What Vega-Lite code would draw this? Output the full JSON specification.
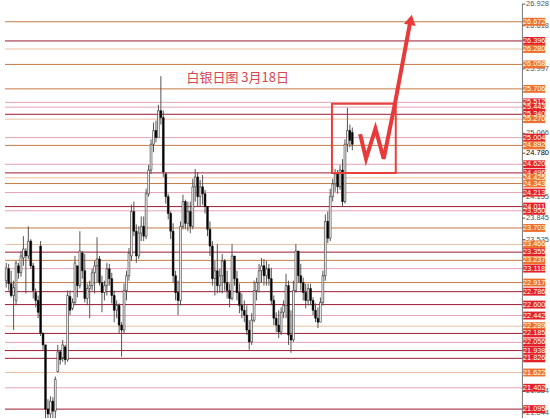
{
  "$schema": "https://vega.github.io/schema/vega-lite/v6.json",
  "width": 550,
  "height": 419,
  "padding": 0,
  "autosize": {"type": "fit", "contains": "padding"},
  "background": "#ffffff",
  "view": {"stroke": null},
  "datasets": {
    "candles": [
      {"i":0,"o":22.944,"h":23.201,"l":22.845,"c":23.129},
      {"i":1,"o":23.115,"h":23.186,"l":22.802,"c":22.902},
      {"i":2,"o":22.902,"h":23.087,"l":22.703,"c":22.731},
      {"i":3,"o":22.731,"h":22.944,"l":22.233,"c":22.845},
      {"i":4,"o":22.660,"h":23.229,"l":22.589,"c":23.201},
      {"i":5,"o":23.158,"h":23.201,"l":22.973,"c":23.058},
      {"i":6,"o":23.058,"h":23.371,"l":23.001,"c":23.300},
      {"i":7,"o":23.272,"h":23.585,"l":23.158,"c":23.400},
      {"i":8,"o":23.371,"h":23.414,"l":22.760,"c":23.300},
      {"i":9,"o":23.300,"h":23.727,"l":23.257,"c":23.514},
      {"i":10,"o":23.514,"h":23.542,"l":23.115,"c":23.158},
      {"i":11,"o":23.158,"h":23.201,"l":22.688,"c":22.802},
      {"i":12,"o":22.774,"h":22.831,"l":22.560,"c":22.660},
      {"i":13,"o":22.660,"h":22.731,"l":22.404,"c":22.489},
      {"i":14,"o":23.442,"h":23.514,"l":22.148,"c":22.190},
      {"i":15,"o":22.190,"h":22.190,"l":21.949,"c":22.020},
      {"i":16,"o":22.020,"h":22.020,"l":20.967,"c":21.095},
      {"i":17,"o":21.095,"h":21.237,"l":20.882,"c":21.024},
      {"i":18,"o":21.024,"h":21.280,"l":20.882,"c":21.209},
      {"i":19,"o":21.209,"h":21.266,"l":20.882,"c":21.066},
      {"i":20,"o":21.066,"h":21.564,"l":20.882,"c":21.522},
      {"i":21,"o":21.636,"h":22.020,"l":21.621,"c":21.920},
      {"i":22,"o":21.920,"h":21.949,"l":21.735,"c":21.806},
      {"i":23,"o":21.835,"h":22.091,"l":21.778,"c":22.020},
      {"i":24,"o":21.991,"h":22.020,"l":21.735,"c":21.806},
      {"i":25,"o":21.806,"h":22.802,"l":21.778,"c":22.731},
      {"i":26,"o":22.717,"h":22.802,"l":22.447,"c":22.518},
      {"i":27,"o":22.546,"h":22.688,"l":22.518,"c":22.631},
      {"i":28,"o":22.631,"h":23.300,"l":22.589,"c":23.201},
      {"i":29,"o":23.158,"h":23.158,"l":22.703,"c":22.873},
      {"i":30,"o":22.873,"h":23.656,"l":22.831,"c":23.371},
      {"i":31,"o":23.343,"h":23.371,"l":22.973,"c":23.087},
      {"i":32,"o":23.087,"h":23.329,"l":22.631,"c":22.688},
      {"i":33,"o":22.688,"h":22.902,"l":22.589,"c":22.831},
      {"i":34,"o":22.831,"h":22.944,"l":22.404,"c":22.873},
      {"i":35,"o":22.873,"h":23.115,"l":22.802,"c":23.058},
      {"i":36,"o":23.058,"h":23.229,"l":22.760,"c":23.158},
      {"i":37,"o":23.158,"h":23.570,"l":22.916,"c":23.257},
      {"i":38,"o":23.257,"h":23.300,"l":22.873,"c":22.916},
      {"i":39,"o":22.916,"h":23.016,"l":22.489,"c":22.774},
      {"i":40,"o":22.774,"h":22.944,"l":22.660,"c":22.873},
      {"i":41,"o":22.873,"h":23.201,"l":22.731,"c":23.115},
      {"i":42,"o":23.115,"h":23.186,"l":22.873,"c":22.973},
      {"i":43,"o":22.973,"h":23.058,"l":22.617,"c":22.731},
      {"i":44,"o":22.731,"h":22.802,"l":22.347,"c":22.518},
      {"i":45,"o":22.518,"h":22.660,"l":22.404,"c":22.589},
      {"i":46,"o":22.589,"h":22.617,"l":22.190,"c":22.304},
      {"i":47,"o":22.304,"h":22.347,"l":21.849,"c":22.233},
      {"i":48,"o":22.233,"h":22.902,"l":22.190,"c":22.802},
      {"i":49,"o":22.802,"h":23.087,"l":22.660,"c":23.016},
      {"i":50,"o":23.016,"h":23.414,"l":22.944,"c":23.343},
      {"i":51,"o":23.300,"h":24.040,"l":23.229,"c":23.940},
      {"i":52,"o":23.940,"h":24.083,"l":23.585,"c":23.656},
      {"i":53,"o":23.656,"h":23.755,"l":23.201,"c":23.300},
      {"i":54,"o":23.300,"h":23.727,"l":23.257,"c":23.627},
      {"i":55,"o":23.627,"h":23.869,"l":23.514,"c":23.727},
      {"i":56,"o":23.727,"h":23.869,"l":23.514,"c":23.585},
      {"i":57,"o":23.585,"h":24.268,"l":23.542,"c":24.196},
      {"i":58,"o":24.196,"h":24.609,"l":24.154,"c":24.538},
      {"i":59,"o":24.538,"h":24.979,"l":24.481,"c":24.908},
      {"i":60,"o":24.908,"h":25.221,"l":24.794,"c":25.107},
      {"i":61,"o":25.107,"h":25.249,"l":24.936,"c":25.007},
      {"i":62,"o":25.007,"h":25.477,"l":25.078,"c":25.392},
      {"i":63,"o":25.392,"h":25.889,"l":25.192,"c":25.292},
      {"i":64,"o":25.292,"h":25.392,"l":24.438,"c":24.509},
      {"i":65,"o":24.481,"h":24.509,"l":24.054,"c":24.154},
      {"i":66,"o":24.154,"h":24.196,"l":23.827,"c":23.912},
      {"i":67,"o":23.912,"h":23.940,"l":23.542,"c":23.656},
      {"i":68,"o":23.656,"h":23.770,"l":22.916,"c":23.016},
      {"i":69,"o":23.016,"h":23.087,"l":22.660,"c":22.774},
      {"i":70,"o":22.774,"h":22.944,"l":22.447,"c":22.660},
      {"i":71,"o":22.660,"h":23.798,"l":22.589,"c":23.727},
      {"i":72,"o":23.727,"h":24.182,"l":23.684,"c":24.083},
      {"i":73,"o":24.083,"h":24.111,"l":23.684,"c":23.770},
      {"i":74,"o":23.770,"h":24.083,"l":23.656,"c":23.940},
      {"i":75,"o":23.940,"h":24.083,"l":23.627,"c":23.727},
      {"i":76,"o":23.727,"h":24.410,"l":23.684,"c":24.296},
      {"i":77,"o":24.296,"h":24.552,"l":24.083,"c":24.438},
      {"i":78,"o":24.438,"h":24.509,"l":24.012,"c":24.154},
      {"i":79,"o":24.154,"h":24.396,"l":24.012,"c":24.296},
      {"i":80,"o":24.296,"h":24.467,"l":24.040,"c":24.196},
      {"i":81,"o":24.196,"h":24.253,"l":23.912,"c":24.012},
      {"i":82,"o":24.012,"h":24.012,"l":23.585,"c":23.684},
      {"i":83,"o":23.684,"h":23.798,"l":23.300,"c":23.442},
      {"i":84,"o":23.442,"h":23.514,"l":22.873,"c":22.973},
      {"i":85,"o":22.973,"h":23.229,"l":22.731,"c":23.087},
      {"i":86,"o":23.087,"h":23.471,"l":22.760,"c":22.873},
      {"i":87,"o":22.873,"h":23.115,"l":22.774,"c":23.016},
      {"i":88,"o":23.016,"h":23.329,"l":22.760,"c":23.229},
      {"i":89,"o":23.229,"h":23.257,"l":22.802,"c":22.916},
      {"i":90,"o":22.916,"h":23.087,"l":22.688,"c":22.802},
      {"i":91,"o":22.802,"h":22.902,"l":22.560,"c":22.688},
      {"i":92,"o":22.688,"h":23.471,"l":22.660,"c":23.300},
      {"i":93,"o":23.300,"h":23.300,"l":22.873,"c":22.973},
      {"i":94,"o":22.973,"h":23.087,"l":22.660,"c":22.774},
      {"i":95,"o":22.774,"h":22.902,"l":22.475,"c":22.589},
      {"i":96,"o":22.589,"h":22.760,"l":22.404,"c":22.518},
      {"i":97,"o":22.518,"h":22.660,"l":22.347,"c":22.447},
      {"i":98,"o":22.447,"h":22.589,"l":22.162,"c":22.233},
      {"i":99,"o":22.233,"h":22.375,"l":21.949,"c":22.062},
      {"i":100,"o":22.062,"h":22.475,"l":22.020,"c":22.375},
      {"i":101,"o":22.375,"h":22.944,"l":22.347,"c":22.802},
      {"i":102,"o":22.802,"h":22.987,"l":22.660,"c":22.916},
      {"i":103,"o":22.916,"h":23.186,"l":22.774,"c":23.087},
      {"i":104,"o":23.087,"h":23.272,"l":22.916,"c":23.158},
      {"i":105,"o":23.158,"h":23.257,"l":22.873,"c":23.016},
      {"i":106,"o":23.016,"h":23.229,"l":22.873,"c":23.115},
      {"i":107,"o":23.115,"h":23.186,"l":22.873,"c":22.973},
      {"i":108,"o":22.973,"h":23.129,"l":22.589,"c":22.660},
      {"i":109,"o":22.660,"h":22.731,"l":22.304,"c":22.404},
      {"i":110,"o":22.404,"h":22.489,"l":22.205,"c":22.304},
      {"i":111,"o":22.304,"h":22.518,"l":22.119,"c":22.205},
      {"i":112,"o":22.205,"h":22.560,"l":22.162,"c":22.489},
      {"i":113,"o":22.489,"h":22.660,"l":22.404,"c":22.589},
      {"i":114,"o":22.589,"h":23.044,"l":22.404,"c":22.873},
      {"i":115,"o":22.873,"h":22.944,"l":22.020,"c":22.162},
      {"i":116,"o":22.162,"h":22.518,"l":21.906,"c":22.091},
      {"i":117,"o":22.091,"h":22.944,"l":22.062,"c":22.802},
      {"i":118,"o":22.802,"h":23.471,"l":22.774,"c":23.371},
      {"i":119,"o":23.371,"h":23.371,"l":22.916,"c":23.016},
      {"i":120,"o":23.016,"h":23.186,"l":22.802,"c":22.916},
      {"i":121,"o":22.916,"h":22.987,"l":22.660,"c":22.774},
      {"i":122,"o":22.774,"h":22.902,"l":22.546,"c":22.660},
      {"i":123,"o":22.660,"h":22.902,"l":22.589,"c":22.831},
      {"i":124,"o":22.831,"h":22.902,"l":22.589,"c":22.660},
      {"i":125,"o":22.660,"h":22.703,"l":22.447,"c":22.518},
      {"i":126,"o":22.518,"h":22.617,"l":22.347,"c":22.404},
      {"i":127,"o":22.404,"h":22.560,"l":22.262,"c":22.347},
      {"i":128,"o":22.347,"h":22.703,"l":22.347,"c":22.631},
      {"i":129,"o":22.631,"h":23.087,"l":22.589,"c":23.016},
      {"i":130,"o":23.016,"h":23.898,"l":22.944,"c":23.798},
      {"i":131,"o":23.798,"h":23.940,"l":23.485,"c":23.556},
      {"i":132,"o":23.556,"h":24.268,"l":23.514,"c":24.154},
      {"i":133,"o":24.154,"h":24.410,"l":24.083,"c":24.339},
      {"i":134,"o":24.339,"h":24.552,"l":24.225,"c":24.481},
      {"i":135,"o":24.481,"h":24.538,"l":24.196,"c":24.296},
      {"i":136,"o":24.296,"h":24.609,"l":24.253,"c":24.538},
      {"i":137,"o":24.538,"h":24.694,"l":24.012,"c":24.083},
      {"i":138,"o":24.083,"h":24.979,"l":24.054,"c":24.908},
      {"i":139,"o":24.908,"h":25.434,"l":24.794,"c":25.107},
      {"i":140,"o":25.107,"h":25.192,"l":24.865,"c":24.965},
      {"i":141,"o":25.078,"h":25.150,"l":24.822,"c":24.908}
    ],
    "levels": [
      {"v":26.672,"t":"26.672","lc":"#C77A45","bc":"#EE7030"},
      {"v":26.396,"t":"26.396","lc":"#9E1B32","bc":"#E4202A"},
      {"v":26.280,"t":"26.280","lc":"#EBC0A0","bc":"#EE7030"},
      {"v":26.058,"t":"26.058","lc":"#C77A45","bc":"#EE7030"},
      {"v":25.706,"t":"25.706","lc":"#C77A45","bc":"#EE7030"},
      {"v":25.512,"t":"25.512","lc":"#E6A3B3","bc":"#E4202A"},
      {"v":25.443,"t":"25.443","lc":"#E6A3B3","bc":"#E4202A"},
      {"v":25.340,"t":"25.340","lc":"#9E1B32","bc":"#E4202A"},
      {"v":25.270,"t":"25.270","lc":"#EBC0A0","bc":"#EE7030"},
      {"v":25.004,"t":"25.004","lc":"#E6A3B3","bc":"#E4202A"},
      {"v":24.892,"t":"24.892","lc":"#C77A45","bc":"#EE7030"},
      {"v":24.620,"t":"24.620","lc":"#E6A3B3","bc":"#E4202A"},
      {"v":24.496,"t":"24.496","lc":"#9E1B32","bc":"#E4202A"},
      {"v":24.425,"t":"24.425","lc":"#EBC0A0","bc":"#EE7030"},
      {"v":24.343,"t":"24.343","lc":"#C77A45","bc":"#EE7030"},
      {"v":24.213,"t":"24.213","lc":"#E6A3B3","bc":"#E4202A"},
      {"v":24.011,"t":"24.011","lc":"#9E1B32","bc":"#E4202A"},
      {"v":23.950,"t":"23.950","lc":"#E6A3B3","bc":"#E4202A"},
      {"v":23.703,"t":"23.703","lc":"#C77A45","bc":"#EE7030"},
      {"v":23.466,"t":"23.466","lc":"#EBC0A0","bc":"#EE7030"},
      {"v":23.355,"t":"23.355","lc":"#9E1B32","bc":"#E4202A"},
      {"v":23.237,"t":"23.237","lc":"#C77A45","bc":"#EE7030"},
      {"v":23.118,"t":"23.118","lc":"#E6A3B3","bc":"#E4202A"},
      {"v":22.917,"t":"22.917","lc":"#C77A45","bc":"#EE7030"},
      {"v":22.786,"t":"22.786","lc":"#9E1B32","bc":"#E4202A"},
      {"v":22.600,"t":"22.600","lc":"#9E1B32","bc":"#E4202A"},
      {"v":22.442,"t":"22.442","lc":"#E6A3B3","bc":"#E4202A"},
      {"v":22.289,"t":"22.289","lc":"#EBC0A0","bc":"#EE7030"},
      {"v":22.185,"t":"22.185","lc":"#9E1B32","bc":"#E4202A"},
      {"v":22.056,"t":"22.056","lc":"#E6A3B3","bc":"#E4202A"},
      {"v":21.938,"t":"21.938","lc":"#9E1B32","bc":"#E4202A"},
      {"v":21.826,"t":"21.826","lc":"#9E1B32","bc":"#E4202A"},
      {"v":21.622,"t":"21.622","lc":"#EBC0A0","bc":"#EE7030"},
      {"v":21.402,"t":"21.402","lc":"#E6A3B3","bc":"#E4202A"},
      {"v":21.095,"t":"21.095","lc":"#9E1B32","bc":"#E4202A"}
    ],
    "ticks": [
      {"v":26.927,"t":"26.928","tc":"#555555"},
      {"v":26.615,"t":"26.618","tc":"#555555"},
      {"v":25.995,"t":"25.997","tc":"#555555"},
      {"v":25.066,"t":"25.066","tc":"#555555"},
      {"v":24.780,"t":"24.780","tc":"#000000"},
      {"v":24.155,"t":"24.155","tc":"#555555"},
      {"v":23.845,"t":"23.845","tc":"#555555"},
      {"v":23.535,"t":"23.535","tc":"#555555"},
      {"v":21.350,"t":"21.354","tc":"#555555"},
      {"v":21.040,"t":"21.044","tc":"#555555"}
    ],
    "zig": [
      {"k":0,"x":144.18,"y":25.054},
      {"k":1,"x":146.58,"y":24.699},
      {"k":2,"x":150.42,"y":25.135},
      {"k":3,"x":153.78,"y":24.699},
      {"k":4,"x":158.42,"y":25.505},
      {"k":5,"x":164.58,"y":26.668}
    ]
  },
  "layer": [
    {
      "data": {"name": "levels"},
      "mark": {"type": "rule", "strokeWidth": 1},
      "encoding": {
        "x": {"datum": -0.5, "type": "quantitative", "scale": {"domain": [-0.5, 219.5], "nice": false, "zero": false}, "axis": null},
        "x2": {"datum": 210.3},
        "y": {"field": "v", "type": "quantitative", "scale": {"domain": [20.967, 26.928], "nice": false, "zero": false}, "axis": null},
        "color": {"field": "lc", "type": "nominal", "scale": null, "legend": null}
      }
    },
    {
      "data": {"name": "candles"},
      "mark": {"type": "rule", "color": "#555555", "strokeWidth": 1, "clip": true},
      "encoding": {
        "x": {"field": "i", "type": "quantitative"},
        "y": {"field": "l", "type": "quantitative"},
        "y2": {"field": "h"}
      }
    },
    {
      "data": {"name": "candles"},
      "mark": {"type": "bar", "width": 1.8, "stroke": "#000000", "strokeWidth": 0.5, "clip": true},
      "encoding": {
        "x": {"field": "i", "type": "quantitative"},
        "y": {"field": "o", "type": "quantitative"},
        "y2": {"field": "c"},
        "fill": {"condition": {"test": "datum.c >= datum.o", "value": "#ffffff"}, "value": "#000000"}
      }
    },
    {
      "data": {"values": [{"a": 1}]},
      "mark": {"type": "rule", "color": "#777777", "strokeWidth": 1},
      "encoding": {"x": {"datum": 210.3}}
    },
    {
      "data": {"name": "ticks"},
      "mark": {"type": "rule", "color": "#555555", "strokeWidth": 1},
      "encoding": {
        "x": {"datum": 210.3},
        "x2": {"datum": 211.5},
        "y": {"field": "v", "type": "quantitative"}
      }
    },
    {
      "data": {"name": "ticks"},
      "mark": {"type": "text", "align": "left", "baseline": "middle", "font": "Liberation Sans", "fontSize": 7.5},
      "encoding": {
        "x": {"datum": 211.8},
        "y": {"field": "v", "type": "quantitative"},
        "text": {"field": "t"},
        "color": {"field": "tc", "type": "nominal", "scale": null, "legend": null}
      }
    },
    {
      "data": {"name": "levels"},
      "mark": {"type": "point", "filled": true, "opacity": 1, "strokeWidth": 0, "size": 484, "shape": "M-1,-0.36L1,-0.36L1,0.36L-1,0.36Z"},
      "encoding": {
        "x": {"datum": 215.1},
        "y": {"field": "v", "type": "quantitative"},
        "color": {"field": "bc", "type": "nominal", "scale": null, "legend": null}
      }
    },
    {
      "data": {"name": "levels"},
      "mark": {"type": "text", "align": "center", "baseline": "middle", "font": "Liberation Sans", "fontSize": 7.3, "color": "#ffffff"},
      "encoding": {
        "x": {"datum": 215.1},
        "y": {"field": "v", "type": "quantitative"},
        "text": {"field": "t"}
      }
    },
    {
      "data": {"values": [{"x1": 132.7, "x2": 158.7, "y1": 25.491, "y2": 24.495}]},
      "mark": {"type": "rect", "fill": null, "fillOpacity": 0, "stroke": "#E8403A", "strokeWidth": 2},
      "encoding": {
        "x": {"field": "x1", "type": "quantitative"},
        "x2": {"field": "x2"},
        "y": {"field": "y1", "type": "quantitative"},
        "y2": {"field": "y2"}
      }
    },
    {
      "data": {"name": "zig"},
      "mark": {"type": "line", "color": "#E83A3A", "strokeWidth": 4, "strokeJoin": "miter"},
      "encoding": {
        "x": {"field": "x", "type": "quantitative"},
        "y": {"field": "y", "type": "quantitative"},
        "order": {"field": "k"}
      }
    },
    {
      "data": {"values": [{"x": 164.82, "y": 26.70}]},
      "mark": {"type": "point", "shape": "triangle-up", "filled": true, "opacity": 1, "color": "#E83A3A", "size": 140, "angle": 11},
      "encoding": {
        "x": {"field": "x", "type": "quantitative"},
        "y": {"field": "y", "type": "quantitative"}
      }
    },
    {
      "data": {"values": [{"x": 94.3, "y": 25.861, "t": "白银日图 3月18日"}]},
      "mark": {"type": "text", "align": "center", "baseline": "middle", "font": "Noto Sans CJK SC", "fontSize": 13, "color": "#D64550"},
      "encoding": {
        "x": {"field": "x", "type": "quantitative"},
        "y": {"field": "y", "type": "quantitative"},
        "text": {"field": "t"}
      }
    }
  ]
}
